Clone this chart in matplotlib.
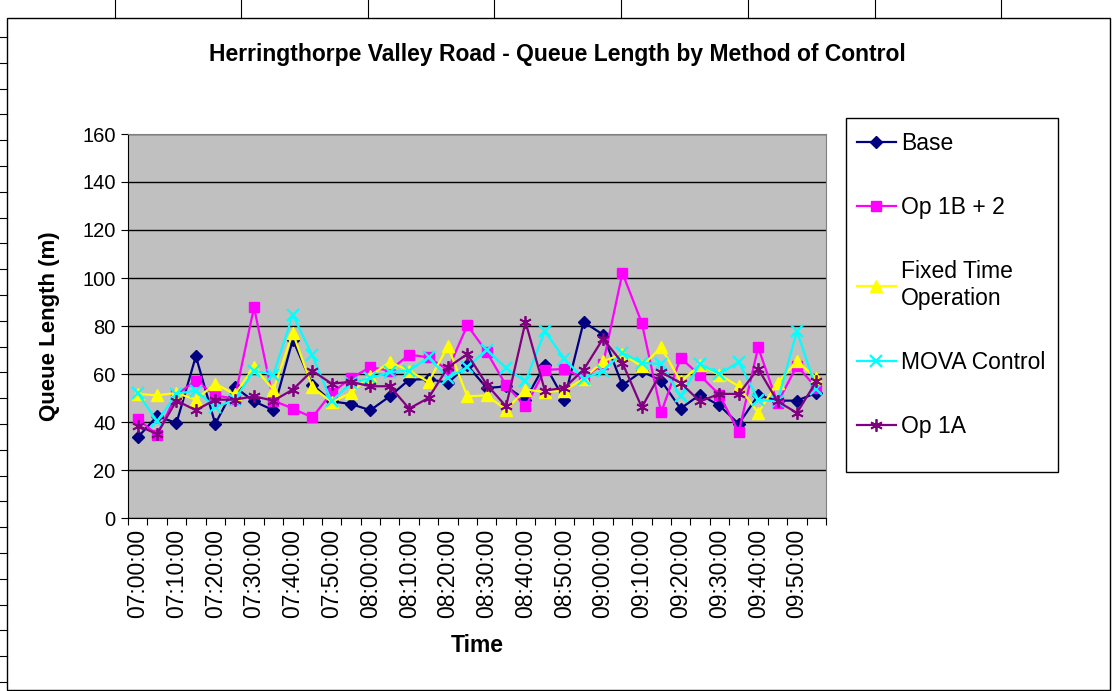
import matplotlib.pyplot as plt
import numpy as np
from matplotlib.lines import Line2D
from matplotlib.patches import Rectangle

plt.rcParams['font.family'] = ['Liberation Sans', 'DejaVu Sans']

# categorias (cada 5 minutos)
horas = ['07:00:00', '07:05:00', '07:10:00', '07:15:00', '07:20:00', '07:25:00',
         '07:30:00', '07:35:00', '07:40:00', '07:45:00', '07:50:00', '07:55:00',
         '08:00:00', '08:05:00', '08:10:00', '08:15:00', '08:20:00', '08:25:00',
         '08:30:00', '08:35:00', '08:40:00', '08:45:00', '08:50:00', '08:55:00',
         '09:00:00', '09:05:00', '09:10:00', '09:15:00', '09:20:00', '09:25:00',
         '09:30:00', '09:35:00', '09:40:00', '09:45:00', '09:50:00', '09:55:00']

base = [33.6, 42.4, 39.6, 67.4, 39.2, 54.6, 48.6, 44.9, 74.3, 55.6, 48.6, 47.5,
        44.9, 50.7, 57.6, 57.9, 56.3, 63.6, 54.2, 54.8, 49.3, 63.9, 49.3, 81.7,
        76.4, 55.3, 61.1, 57.2, 45.6, 51.4, 46.9, 39.2, 51.1, 48.9, 48.9, 52.1]
op_1b2 = [41.3, 34.7, 51.4, 57.2, 51.1, 49.7, 87.8, 48.9, 45.6, 41.9, 52.1, 58.3,
          62.8, 61.4, 68.1, 66.9, 61.8, 80.3, 69.2, 55.3, 46.5, 61.7, 62.1, 58.3,
          64.2, 102.1, 81.3, 44.0, 66.7, 59.4, 51.4, 35.8, 71.1, 47.9, 63.5, 54.2]
fixed = [51.7, 51.1, 52.1, 49.3, 56.0, 51.5, 62.8, 53.5, 77.1, 54.6, 48.3, 52.1,
         59.3, 65.0, 61.4, 56.7, 71.5, 50.7, 51.1, 45.1, 53.5, 52.5, 53.1, 58.0,
         65.3, 68.3, 63.2, 71.1, 56.9, 63.6, 59.7, 54.9, 43.8, 56.3, 65.3, 58.3]
mova = [52.1, 40.3, 51.7, 53.1, 46.1, 49.3, 61.4, 59.7, 84.7, 67.8, 48.6, 56.3,
        58.3, 60.8, 61.4, 66.9, 58.3, 62.9, 70.1, 62.5, 56.9, 77.8, 66.4, 58.0,
        61.4, 68.8, 64.6, 64.2, 50.7, 64.2, 60.0, 65.0, 49.3, 48.6, 77.8, 53.9]
op_1a = [38.5, 35.0, 48.9, 44.9, 49.3, 49.3, 50.7, 48.9, 53.5, 61.4, 56.0, 56.7,
         54.9, 54.9, 45.6, 50.0, 62.8, 68.3, 55.6, 46.5, 81.7, 53.1, 54.2, 61.8,
         74.7, 64.6, 46.1, 60.8, 56.3, 48.6, 51.7, 51.7, 62.2, 48.6, 43.8, 56.9]

W, H = 1112, 691
fig = plt.figure(figsize=(W/100, H/100), dpi=100)

# fundo da planilha (linhas das celulas)
for xc in [115, 241, 368, 494, 621, 748, 875, 1001]:
    fig.add_artist(Line2D([xc/W, xc/W], [1, 1-18/H], color='black', lw=0.8))
for yc in np.arange(37, H, 25.8):
    fig.add_artist(Line2D([0, 7/W], [1-yc/H, 1-yc/H], color='black', lw=0.8))
fig.add_artist(Rectangle((7/W, 1/H), 1103/W, 672/H, fill=False,
                         edgecolor='black', lw=1, transform=fig.transFigure))

ax = fig.add_axes([128/W, 1-518/H, 698/W, 384/H])
ax.set_facecolor('#C0C0C0')
x = np.arange(len(horas))

ax.plot(x, base, color='#000080', marker='D', ms=6, lw=1.6, label='Base')
ax.plot(x, op_1b2, color='#FF00FF', marker='s', ms=7.5, lw=1.6, label='Op 1B + 2')
ax.plot(x, fixed, color='#FFFF00', marker='^', ms=8, lw=1.6, label='Fixed Time\nOperation')
ax.plot(x, mova, color='#00FFFF', marker='x', ms=8, mew=1.6, lw=1.6, label='MOVA Control')
ax.plot(x, op_1a, color='#800080', marker=(6, 2, 0), ms=9, mew=1.3, lw=1.6, label='Op 1A')

ax.set_xlim(-0.5, len(horas) - 0.5)
ax.set_ylim(0, 160)
ax.set_yticks(np.arange(0, 161, 20))
ax.yaxis.grid(True, color='black', lw=1)
ax.set_axisbelow(True)

# tracinhos nas divisoes, rotulos a cada 10 min
ax.set_xticks(np.arange(-0.5, len(horas), 1))
ax.set_xticklabels([])
ax.set_xticks(x[::2], minor=True)
ax.set_xticklabels(horas[::2], minor=True, rotation=90, fontsize=16.5)
ax.tick_params(axis='x', which='major', direction='out', length=5, color='black')
ax.tick_params(axis='x', which='minor', length=0, pad=8)
ax.tick_params(axis='y', direction='out', length=5, labelsize=14.5, pad=4)

for s in ['top', 'right']:
    ax.spines[s].set_color('#808080')
ax.spines['left'].set_color('black')
ax.spines['bottom'].set_color('black')

fig.text(557/W, 1-54/H, 'Herringthorpe Valley Road - Queue Length by Method of Control',
         fontsize=16.5, fontweight='bold', ha='center', va='center')
fig.text(50/W, 1-326/H, 'Queue Length (m)', fontsize=16, fontweight='bold',
         rotation=90, ha='center', va='center')
fig.text(477/W, 1-645/H, 'Time', fontsize=16.5, fontweight='bold',
         ha='center', va='center')

# legenda com caixa desenhada a parte
fig.add_artist(Rectangle((846/W, 1-472/H), 212/W, 354/H, facecolor='white',
                         edgecolor='black', lw=1, transform=fig.transFigure, zorder=-1))
leg = ax.legend(loc='upper left', bbox_to_anchor=(852/W, 1-127/H),
                bbox_transform=fig.transFigure, fontsize=16.5, frameon=False,
                handlelength=1.7, labelspacing=1.8, borderpad=0.2,
                handletextpad=0.25, borderaxespad=0)

fig.savefig('out.png', dpi=100)
